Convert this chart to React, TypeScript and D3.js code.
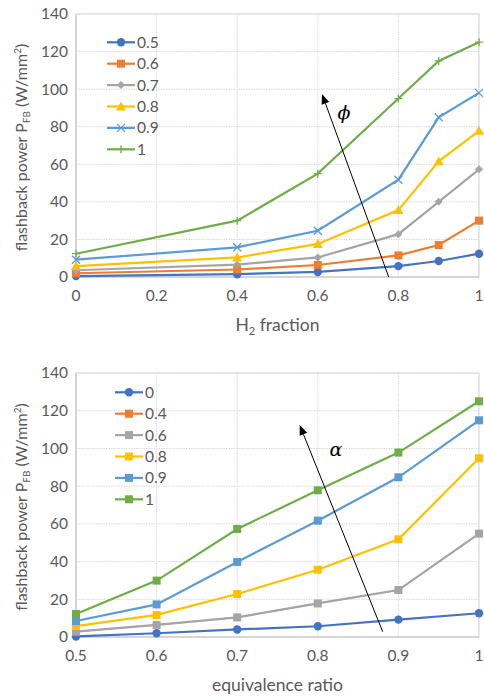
import React, { useEffect, useRef } from 'react';
import * as d3 from 'd3';

// top chart: flashback power vs H2 fraction, one line per equivalence ratio
const h2Fractions = [0, 0.4, 0.6, 0.8, 0.9, 1];
const phiLabels = ['0.5', '0.6', '0.7', '0.8', '0.9', '1'];
const phi05 = [0.5, 1.5, 2.7, 5.8, 8.5, 12.4];
const phi06 = [2, 4, 6.4, 11.5, 17, 30];
const phi07 = [3.6, 6.6, 10.4, 22.8, 40, 57.3];
const phi08 = [5.8, 10.4, 17.6, 35.6, 61.6, 77.8];
const phi09 = [9.2, 15.8, 24.6, 51.8, 85, 98];
const phi10 = [12.4, 30, 55, 95, 115, 125];

// bottom chart: flashback power vs equivalence ratio, one line per H2 fraction
const eqRatios = [0.5, 0.6, 0.7, 0.8, 0.9, 1];
const alphaLabels = ['0', '0.4', '0.6', '0.8', '0.9', '1'];
const a00 = [0.3, 2, 4, 5.7, 9.2, 12.6];
const a04 = [2.8, 6.4, 10.4, 17.8, 24.9, 54.8];
const a06 = [2.8, 6.4, 10.4, 17.8, 24.9, 54.8];
const a08 = [5.8, 11.7, 22.8, 35.7, 51.8, 94.8];
const a09 = [8.5, 17.3, 39.8, 61.7, 84.7, 114.9];
const a10 = [12.2, 29.9, 57.3, 77.8, 97.8, 125];

const yTicks = [0, 20, 40, 60, 80, 100, 120, 140];
const topXTicks = [0, 0.2, 0.4, 0.6, 0.8, 1];
const botXTicks = [0.5, 0.6, 0.7, 0.8, 0.9, 1];

const colors = ['#4472C4', '#ED7D31', '#A5A5A5', '#FFC000', '#5B9BD5', '#70AD47'];
const FONT = 'Lato, "Open Sans", sans-serif';
const TXT = '#595959';

const drawMarker = (g, shape, x, y, color, s = 1) => {
  if (shape === 'circle') {
    g.append('circle').attr('cx', x).attr('cy', y).attr('r', 4.2 * s).attr('fill', color);
  } else if (shape === 'square') {
    g.append('rect').attr('x', x - 4 * s).attr('y', y - 4 * s).attr('width', 8 * s).attr('height', 8 * s).attr('fill', color);
  } else if (shape === 'diamond') {
    g.append('path').attr('d', `M${x},${y - 4}L${x + 4},${y}L${x},${y + 4}L${x - 4},${y}Z`).attr('fill', color);
  } else if (shape === 'triangle') {
    g.append('path').attr('d', `M${x},${y - 5}L${x + 5},${y + 4}L${x - 5},${y + 4}Z`).attr('fill', color);
  } else if (shape === 'x') {
    g.append('path').attr('d', `M${x - 4},${y - 4}L${x + 4},${y + 4}M${x - 4},${y + 4}L${x + 4},${y - 4}`)
      .attr('stroke', color).attr('stroke-width', 1.3);
  } else if (shape === 'plus') {
    g.append('path').attr('d', `M${x - 4},${y}L${x + 4},${y}M${x},${y - 4}L${x},${y + 4}`)
      .attr('stroke', color).attr('stroke-width', 1.3);
  }
};

const drawPanel = (svg, opt) => {
  const { top, bottom, xDomain, xTicks, xs, series, labels, shapes, legendX, legendY, arrow, symbol, xTitle, under } = opt;
  const left = 76;
  const right = 479;
  const x = d3.scaleLinear().domain(xDomain).range([left, right]);
  const y = d3.scaleLinear().domain([0, 140]).range([bottom, top]);
  const g = svg.append('g');

  // grid
  g.selectAll('.hg').data(yTicks.slice(1)).enter().append('line')
    .attr('x1', left).attr('x2', right).attr('y1', d => y(d)).attr('y2', d => y(d))
    .attr('stroke', '#d9d9d9').attr('stroke-width', 1).attr('stroke-dasharray', '1.5,1');
  g.selectAll('.vg').data(xTicks.slice(1)).enter().append('line')
    .attr('x1', d => x(d)).attr('x2', d => x(d)).attr('y1', top).attr('y2', bottom)
    .attr('stroke', '#d9d9d9').attr('stroke-width', 1).attr('stroke-dasharray', '1.5,1');
  g.append('rect').attr('x', left).attr('y', top).attr('width', right - left).attr('height', bottom - top)
    .attr('fill', 'none').attr('stroke', '#d9d9d9');
  g.append('line').attr('x1', left).attr('x2', right).attr('y1', bottom).attr('y2', bottom).attr('stroke', '#bfbfbf');
  g.append('line').attr('x1', left).attr('x2', left).attr('y1', top).attr('y2', bottom).attr('stroke', '#bfbfbf');

  // tick labels
  g.selectAll('.yt').data(yTicks).enter().append('text')
    .attr('x', left - 8).attr('y', d => y(d)).attr('dy', '0.35em').attr('text-anchor', 'end')
    .attr('font-family', FONT).attr('font-size', 15.5).attr('fill', TXT).text(d => d);
  g.selectAll('.xt').data(xTicks).enter().append('text')
    .attr('x', d => x(d)).attr('y', bottom + 24).attr('text-anchor', 'middle')
    .attr('font-family', FONT).attr('font-size', 15.5).attr('fill', TXT).text(d => d);

  // axis titles
  const yt = g.append('text')
    .attr('transform', `translate(27,${(top + bottom) / 2 + 2}) rotate(-90)`)
    .attr('text-anchor', 'middle').attr('font-family', FONT).attr('font-size', 16).attr('fill', TXT);
  yt.append('tspan').text('flashback power P');
  yt.append('tspan').attr('font-size', 10).attr('dy', 3).text('FB');
  yt.append('tspan').attr('dy', -3).text(' (W/mm');
  yt.append('tspan').attr('font-size', 10).attr('dy', -6).text('2');
  yt.append('tspan').attr('dy', 6).text(')');

  const xt = g.append('text').attr('x', (left + right) / 2).attr('y', bottom + 54)
    .attr('text-anchor', 'middle').attr('font-family', FONT).attr('font-size', 17.5).attr('fill', TXT);
  if (xTitle === 'h2') {
    xt.append('tspan').text('H');
    xt.append('tspan').attr('font-size', 11).attr('dy', 4).text('2');
    xt.append('tspan').attr('dy', -4).text(' fraction');
  } else {
    xt.text('equivalence ratio');
  }

  // series
  const line = d3.line().x(d => x(d[0])).y(d => y(d[1]));
  series.forEach((vals, i) => {
    const pts = xs.map((v, j) => [v, vals[j]]);
    const hidden = under === i;
    g.append('path').attr('d', line(pts)).attr('fill', 'none')
      .attr('stroke', colors[i]).attr('stroke-width', hidden ? 1.2 : 2.2);
    pts.forEach(p => drawMarker(g, shapes[i], x(p[0]), y(p[1]), colors[i], hidden ? 0.6 : 1));
  });

  // legend
  labels.forEach((lab, i) => {
    const ly = legendY + i * 21.4;
    g.append('line').attr('x1', legendX).attr('x2', legendX + 28).attr('y1', ly).attr('y2', ly)
      .attr('stroke', colors[i]).attr('stroke-width', 2.2);
    drawMarker(g, shapes[i], legendX + 14, ly, colors[i]);
    g.append('text').attr('x', legendX + 30).attr('y', ly).attr('dy', '0.35em')
      .attr('font-family', FONT).attr('font-size', 15.5).attr('fill', TXT).text(lab);
  });

  // arrow
  const [ax1, ay1, ax2, ay2] = arrow;
  const ang = Math.atan2(ay2 - ay1, ax2 - ax1);
  const hl = 10;
  const hw = 4;
  const bx = ax2 - hl * Math.cos(ang);
  const by = ay2 - hl * Math.sin(ang);
  g.append('line').attr('x1', ax1).attr('y1', ay1).attr('x2', bx).attr('y2', by)
    .attr('stroke', '#000').attr('stroke-width', 1);
  g.append('path')
    .attr('d', `M${ax2},${ay2}L${bx + hw * Math.sin(ang)},${by - hw * Math.cos(ang)}L${bx - hw * Math.sin(ang)},${by + hw * Math.cos(ang)}Z`)
    .attr('fill', '#000');
  g.append('text').attr('x', symbol[1]).attr('y', symbol[2]).attr('text-anchor', 'middle')
    .attr('font-family', '"DejaVu Serif", serif').attr('font-style', 'italic').attr('font-size', 19)
    .attr('fill', '#000').text(symbol[0]);
};

const App = () => {
  const chartRef = useRef();

  useEffect(() => {
    d3.select(chartRef.current).selectAll('svg').remove();
    const svg = d3.select(chartRef.current)
      .append('svg')
      .attr('width', 484)
      .attr('height', 699)
      .style('position', 'absolute')
      .style('left', 0)
      .style('top', 0)
      .style('background', '#fff');

    drawPanel(svg, {
      top: 14, bottom: 277, xDomain: [0, 1], xTicks: topXTicks, xs: h2Fractions,
      series: [phi05, phi06, phi07, phi08, phi09, phi10], labels: phiLabels,
      shapes: ['circle', 'square', 'diamond', 'triangle', 'x', 'plus'],
      legendX: 107, legendY: 42.3, arrow: [388.7, 277, 322, 94],
      symbol: ['ϕ', 344, 119], xTitle: 'h2', under: -1,
    });

    drawPanel(svg, {
      top: 373, bottom: 637, xDomain: [0.5, 1], xTicks: botXTicks, xs: eqRatios,
      series: [a00, a04, a06, a08, a09, a10], labels: alphaLabels,
      shapes: ['circle', 'square', 'square', 'square', 'square', 'square'],
      legendX: 115, legendY: 392.3, arrow: [382.7, 631.7, 299.7, 425],
      symbol: ['α', 336, 456], xTitle: 'eq', under: 1,
    });
  }, []);

  return (
    <>
      <div ref={chartRef}></div>
    </>
  );
};

export default App;
